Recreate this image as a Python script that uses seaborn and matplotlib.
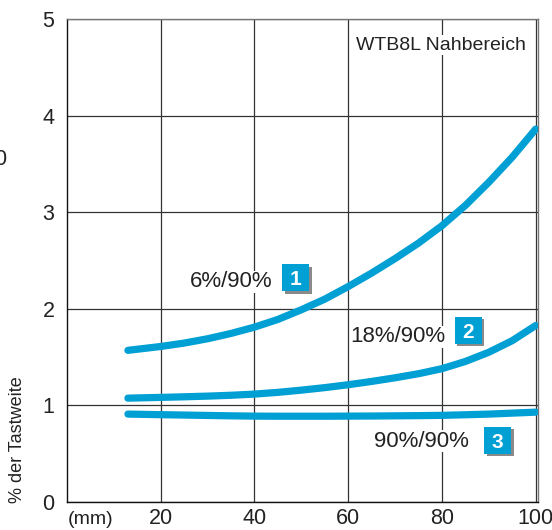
import matplotlib
matplotlib.use('Agg')
import matplotlib.pyplot as plt
import matplotlib.patheffects as pe
from matplotlib.patches import Rectangle
import pandas as pd
import seaborn as sns

# --- data ---
distance_mm = [13, 20, 25, 30, 35, 40, 45, 50, 55, 60, 65, 70, 75, 80, 85, 90, 95, 100]
curve_6_90 = [1.57, 1.61, 1.645, 1.69, 1.745, 1.81, 1.89, 1.99, 2.10, 2.23, 2.37, 2.52,
              2.68, 2.86, 3.07, 3.31, 3.57, 3.86]
curve_18_90 = [1.075, 1.083, 1.089, 1.096, 1.105, 1.117, 1.135, 1.158, 1.184, 1.214, 1.248,
               1.286, 1.328, 1.38, 1.455, 1.55, 1.67, 1.827]
curve_90_90 = [0.91, 0.904, 0.90, 0.896, 0.892, 0.889, 0.888, 0.888, 0.888, 0.889, 0.89,
               0.892, 0.894, 0.897, 0.903, 0.91, 0.92, 0.93]
series_names = ["6%/90%", "18%/90%", "90%/90%"]
series_numbers = ["1", "2", "3"]
x_ticks = [20, 40, 60, 80, 100]
y_ticks = [0, 1, 2, 3, 4, 5]

BLUE = "#009fd4"

sns.set_style("white")
plt.rcParams['font.family'] = ['Liberation Sans', 'DejaVu Sans']

df = pd.DataFrame({
    "mm": distance_mm * 3,
    "value": curve_6_90 + curve_18_90 + curve_90_90,
    "series": [s for s in series_names for _ in distance_mm],
})

fig = plt.figure(figsize=(5.52, 5.30), dpi=100)
ax = fig.add_axes([67 / 552, 28 / 530, 471 / 552, 483 / 530])

sns.lineplot(data=df, x="mm", y="value", units="series", estimator=None,
             color=BLUE, linewidth=5.2, solid_capstyle='round', solid_joinstyle='round',
             ax=ax, zorder=3)

ax.set_xlim(0, 100.5)
ax.set_ylim(0, 5)
ax.set_xticks(x_ticks)
ax.set_yticks(y_ticks)
ax.grid(True, color="#333333", linewidth=0.9)
ax.tick_params(axis='both', length=0, labelsize=15.5, colors="#222222")
ax.tick_params(axis='y', pad=9)
ax.tick_params(axis='x', pad=4.5)
ax.set_xlabel("")
ax.set_ylabel("")
for side in ['left', 'bottom']:
    ax.spines[side].set_color("#111111")
    ax.spines[side].set_linewidth(1.0)
for side in ['top', 'right']:
    ax.spines[side].set_color("#777777")
    ax.spines[side].set_linewidth(1.0)

# series labels with numbered boxes (box ~27 px square)
box_w = 27 / 4.683
box_h = 27 / 96.7
label_pos = [(43.8, 2.28), (80.8, 1.71), (85.7, 0.63)]
box_pos = [(48.7, 2.32), (85.6, 1.78), (91.9, 0.64)]
for name, num, (lx, ly), (bx, by) in zip(series_names, series_numbers, label_pos, box_pos):
    ax.text(lx, ly, name, ha='right', va='center', fontsize=16, color="#222222",
            bbox=dict(facecolor='white', edgecolor='none', pad=0.5), zorder=4)
    rect = Rectangle((bx - box_w / 2, by - box_h / 2), box_w, box_h,
                     facecolor=BLUE, edgecolor='none', zorder=5)
    rect.set_path_effects([
        pe.SimplePatchShadow(offset=(2, -2), shadow_rgbFace="#8a8a8a", alpha=1.0),
        pe.Normal()])
    ax.add_patch(rect)
    ax.text(bx, by, num, ha='center', va='center_baseline', fontsize=15,
            fontweight='bold', color='white', zorder=6)

ax.text(97.9, 4.73, "WTB8L Nahbereich", ha='right', va='center', fontsize=14,
        color="#222222", zorder=4,
        bbox=dict(facecolor='white', edgecolor='none', pad=1))

fig.text(18 / 552, 1 - 440 / 530, "% der Tastweite", rotation=90, ha='center',
         va='center', fontsize=13, color="#222222")
fig.text(68 / 552, 1 - 520 / 530, "(mm)", ha='left', va='center', fontsize=14,
         color="#222222")
fig.text(-6 / 552, 1 - 160 / 530, "0", ha='left', va='center', fontsize=15.5,
         color="#222222")

fig.savefig("out.png", dpi=100)
